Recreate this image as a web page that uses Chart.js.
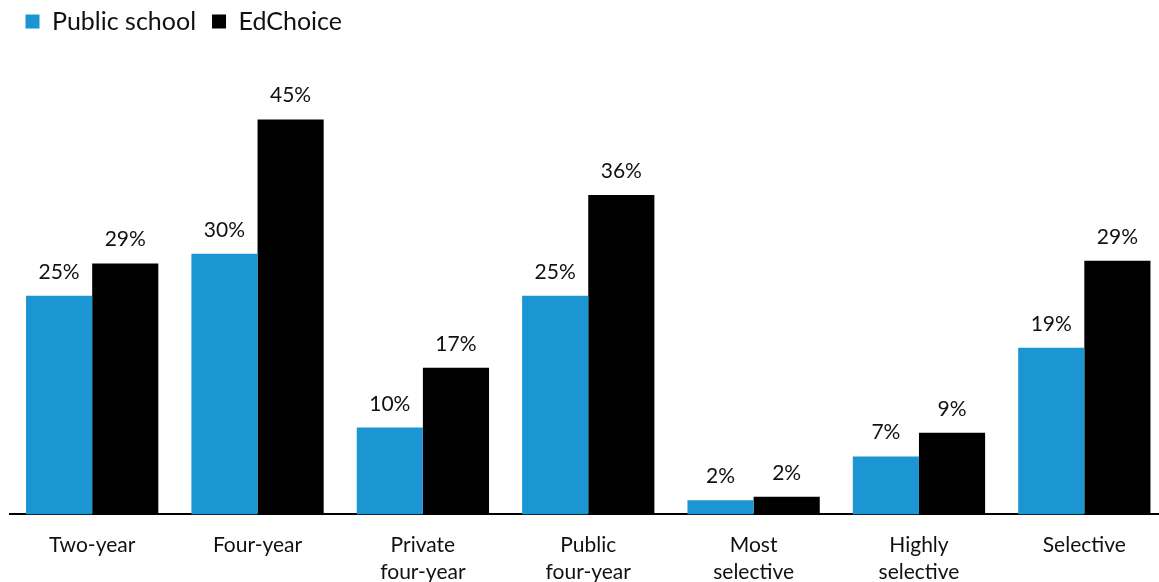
<!DOCTYPE html>
<html>
<head>
<meta charset="utf-8">
<script src="https://cdn.jsdelivr.net/npm/chart.js@4/dist/chart.umd.min.js"></script>
<style>
  html, body { margin: 0; padding: 0; background: #fff; overflow: hidden; }
  #grafico { display: block; }
</style>
</head>
<body>
<canvas id="grafico" width="1167" height="603"></canvas>
<script>
const categorias = [
  "Two-year",
  "Four-year",
  ["Private", "four-year"],
  ["Public", "four-year"],
  ["Most", "selective"],
  ["Highly", "selective"],
  "Selective",
];
const publicSchool = [24.9, 29.7, 9.9, 24.9, 1.6, 6.6, 19.0];
const edChoice = [28.6, 45.0, 16.7, 36.4, 2.0, 9.3, 28.9];

const fonte = "Lato, 'Open Sans', sans-serif";

// escreve o valor em cima de cada barra
const rotulos = {
  id: "rotulosBarras",
  afterDatasetsDraw(chart) {
    const ctx = chart.ctx;
    ctx.save();
    ctx.font = "21px " + fonte;
    ctx.fillStyle = "#111";
    ctx.textAlign = "center";
    ctx.textBaseline = "alphabetic";
    chart.data.datasets.forEach(function (ds, i) {
      chart.getDatasetMeta(i).data.forEach(function (barra, j) {
        ctx.fillText(Math.round(ds.data[j]) + "%", barra.x, barra.y - 17);
      });
    });
    ctx.restore();
  },
};

new Chart(document.getElementById("grafico"), {
  type: "bar",
  plugins: [rotulos],
  data: {
    labels: categorias,
    datasets: [
      {
        label: "Public school",
        data: publicSchool,
        backgroundColor: "#1b96d3",
      },
      {
        label: "EdChoice",
        data: edChoice,
        backgroundColor: "#000000",
      },
    ],
  },
  options: {
    responsive: false,
    animation: false,
    events: [],
    layout: {
      padding: { left: 9.5, right: 0, top: -7, bottom: 0 },
    },
    datasets: {
      bar: { barPercentage: 1, categoryPercentage: 0.8 },
    },
    plugins: {
      tooltip: { enabled: false },
      legend: {
        position: "top",
        align: "start",
        labels: {
          boxWidth: 14,
          boxHeight: 14,
          padding: 16,
          color: "#111",
          font: { family: fonte, size: 25 },
        },
      },
    },
    scales: {
      x: {
        grid: { display: false, drawTicks: false },
        border: { display: true, color: "#000", width: 2 },
        ticks: {
          color: "#111",
          padding: 17,
          maxRotation: 0,
          autoSkip: false,
          font: { family: fonte, size: 21, lineHeight: 1.3 },
        },
      },
      y: {
        display: false,
        min: 0,
        max: 53.6,
      },
    },
  },
});
</script>
</body>
</html>
